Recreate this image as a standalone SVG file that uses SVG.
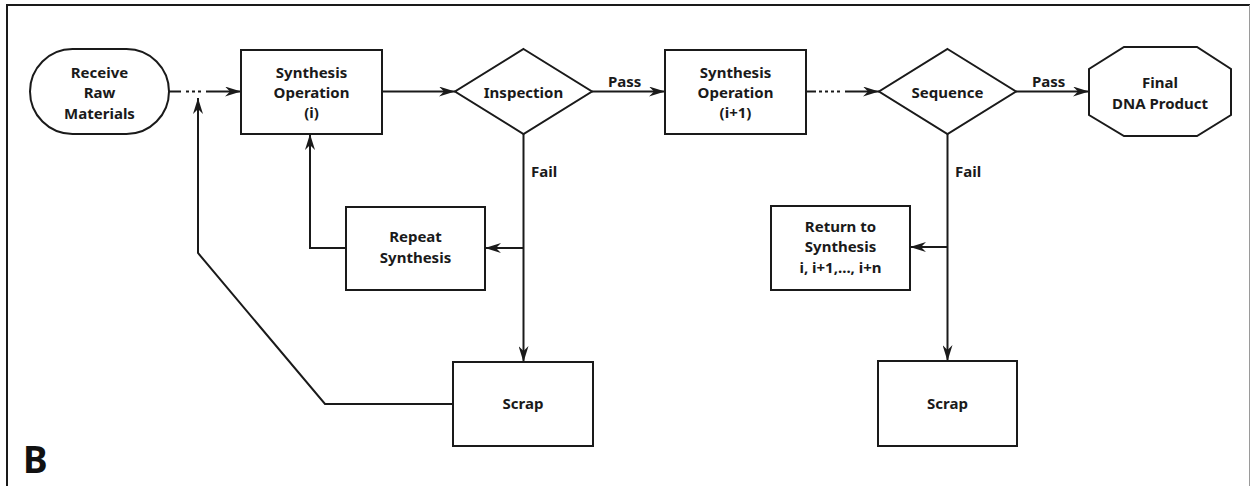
<svg xmlns="http://www.w3.org/2000/svg" width="1251" height="486" viewBox="0 0 1251 486">
  <style>
    .shape { fill: #ffffff; stroke: #1a1a1a; stroke-width: 2; }
    .wire { fill: none; stroke: #1a1a1a; stroke-width: 2; }
    .label { font-family: "Noto Sans", "Open Sans", sans-serif; font-weight: bold; font-size: 15px; fill: #1a1a1a; text-anchor: middle; }
    .edge-label { font-family: "Noto Sans", "Open Sans", sans-serif; font-weight: bold; font-size: 15px; fill: #1a1a1a; }
    .panel { font-family: "Noto Sans", "Open Sans", sans-serif; font-weight: bold; font-size: 37px; fill: #111111; }
  </style>
  <defs>
    <marker id="arrow" viewBox="0 0 16 10" refX="16" refY="5" markerWidth="16" markerHeight="10" markerUnits="userSpaceOnUse" orient="auto">
      <path d="M0,0 L16,5 L0,10 L5,5 z" fill="#1a1a1a"/>
    </marker>
  </defs>

  <rect width="1251" height="486" fill="#ffffff"/>

  <!-- panel frame -->
  <g id="frame">
    <line x1="6" y1="5" x2="1250" y2="5" stroke="#1a1a1a" stroke-width="2"/>
    <line x1="7" y1="4" x2="7" y2="486" stroke="#1a1a1a" stroke-width="2"/>
    <line x1="1249.5" y1="5" x2="1249.5" y2="486" stroke="#9a9a9a" stroke-width="1"/>
  </g>

  <!-- connectors -->
  <g id="connectors">
    <!-- Receive Raw Materials to Synthesis Operation (i), dashed -->
    <line class="wire" x1="169" y1="91.5" x2="181" y2="91.5"/>
    <line class="wire" x1="186" y1="91.5" x2="189" y2="91.5"/>
    <line class="wire" x1="192" y1="91.5" x2="195" y2="91.5"/>
    <line class="wire" x1="198" y1="91.5" x2="201" y2="91.5"/>
    <line class="wire" x1="206" y1="91.5" x2="241" y2="91.5" marker-end="url(#arrow)"/>

    <line class="wire" x1="382" y1="91.5" x2="455" y2="91.5" marker-end="url(#arrow)"/>
    <line class="wire" x1="592" y1="91.5" x2="665" y2="91.5" marker-end="url(#arrow)"/>
    <text class="edge-label" x="608" y="87">Pass</text>

    <!-- Synthesis Operation (i+1) to Sequence, dashed -->
    <line class="wire" x1="806" y1="91.5" x2="816" y2="91.5"/>
    <line class="wire" x1="819" y1="91.5" x2="822" y2="91.5"/>
    <line class="wire" x1="825" y1="91.5" x2="828" y2="91.5"/>
    <line class="wire" x1="831" y1="91.5" x2="834" y2="91.5"/>
    <line class="wire" x1="837" y1="91.5" x2="840" y2="91.5"/>
    <line class="wire" x1="845" y1="91.5" x2="879" y2="91.5" marker-end="url(#arrow)"/>

    <line class="wire" x1="1016" y1="91.5" x2="1089" y2="91.5" marker-end="url(#arrow)"/>
    <text class="edge-label" x="1032" y="87">Pass</text>

    <!-- Inspection fail branch -->
    <line class="wire" x1="523.5" y1="134" x2="523.5" y2="362" marker-end="url(#arrow)"/>
    <line class="wire" x1="523.5" y1="248" x2="485" y2="248" marker-end="url(#arrow)"/>
    <text class="edge-label" x="531" y="177">Fail</text>

    <!-- Repeat Synthesis back to Synthesis Operation (i) -->
    <polyline class="wire" points="346,248 310,248 310,134" marker-end="url(#arrow)"/>

    <!-- Scrap back to the raw material line -->
    <polyline class="wire" points="453,404 325,404 198,253 198,98" marker-end="url(#arrow)"/>

    <!-- Sequence fail branch -->
    <line class="wire" x1="947.5" y1="134" x2="947.5" y2="361" marker-end="url(#arrow)"/>
    <line class="wire" x1="947.5" y1="247" x2="910" y2="247" marker-end="url(#arrow)"/>
    <text class="edge-label" x="955" y="177">Fail</text>
  </g>

  <g id="receive">
    <rect class="shape" x="30" y="49" width="139" height="85" rx="42.5" ry="42.5"/>
    <text class="label" x="99.5" y="78">Receive</text>
    <text class="label" x="99.5" y="98">Raw</text>
    <text class="label" x="99.5" y="118.5">Materials</text>
  </g>

  <g id="synthesis-i">
    <rect class="shape" x="241" y="50" width="141" height="84"/>
    <text class="label" x="311.5" y="77.5">Synthesis</text>
    <text class="label" x="311.5" y="98">Operation</text>
    <text class="label" x="311.5" y="118">(i)</text>
  </g>

  <g id="inspection">
    <polygon class="shape" points="523.5,49 592,91.5 523.5,134 455,91.5"/>
    <text class="label" x="523.5" y="97.5">Inspection</text>
  </g>

  <g id="synthesis-i1">
    <rect class="shape" x="665" y="50" width="141" height="84"/>
    <text class="label" x="735.5" y="77.5">Synthesis</text>
    <text class="label" x="735.5" y="98">Operation</text>
    <text class="label" x="735.5" y="118">(i+1)</text>
  </g>

  <g id="sequence">
    <polygon class="shape" points="947.5,49 1016,91.5 947.5,134 879,91.5"/>
    <text class="label" x="947.5" y="97.5">Sequence</text>
  </g>

  <g id="final-product">
    <polygon class="shape" points="1124,47 1197,47 1231,69 1231,115 1197,136 1124,136 1089,115 1089,69"/>
    <text class="label" x="1160" y="88">Final</text>
    <text class="label" x="1160" y="108.5">DNA Product</text>
  </g>

  <g id="repeat-synthesis">
    <rect class="shape" x="346" y="207" width="139" height="83"/>
    <text class="label" x="415.5" y="242">Repeat</text>
    <text class="label" x="415.5" y="263">Synthesis</text>
  </g>

  <g id="scrap-1">
    <rect class="shape" x="453" y="362" width="140" height="84"/>
    <text class="label" x="523" y="408.5">Scrap</text>
  </g>

  <g id="return-to-synthesis">
    <rect class="shape" x="771" y="206" width="139" height="84"/>
    <text class="label" x="840.5" y="232">Return to</text>
    <text class="label" x="840.5" y="252">Synthesis</text>
    <text class="label" x="840.5" y="272.5">i, i+1,..., i+n</text>
  </g>

  <g id="scrap-2">
    <rect class="shape" x="878" y="361" width="139" height="85"/>
    <text class="label" x="947.5" y="408.5">Scrap</text>
  </g>

  <text class="panel" x="23" y="473">B</text>
</svg>
